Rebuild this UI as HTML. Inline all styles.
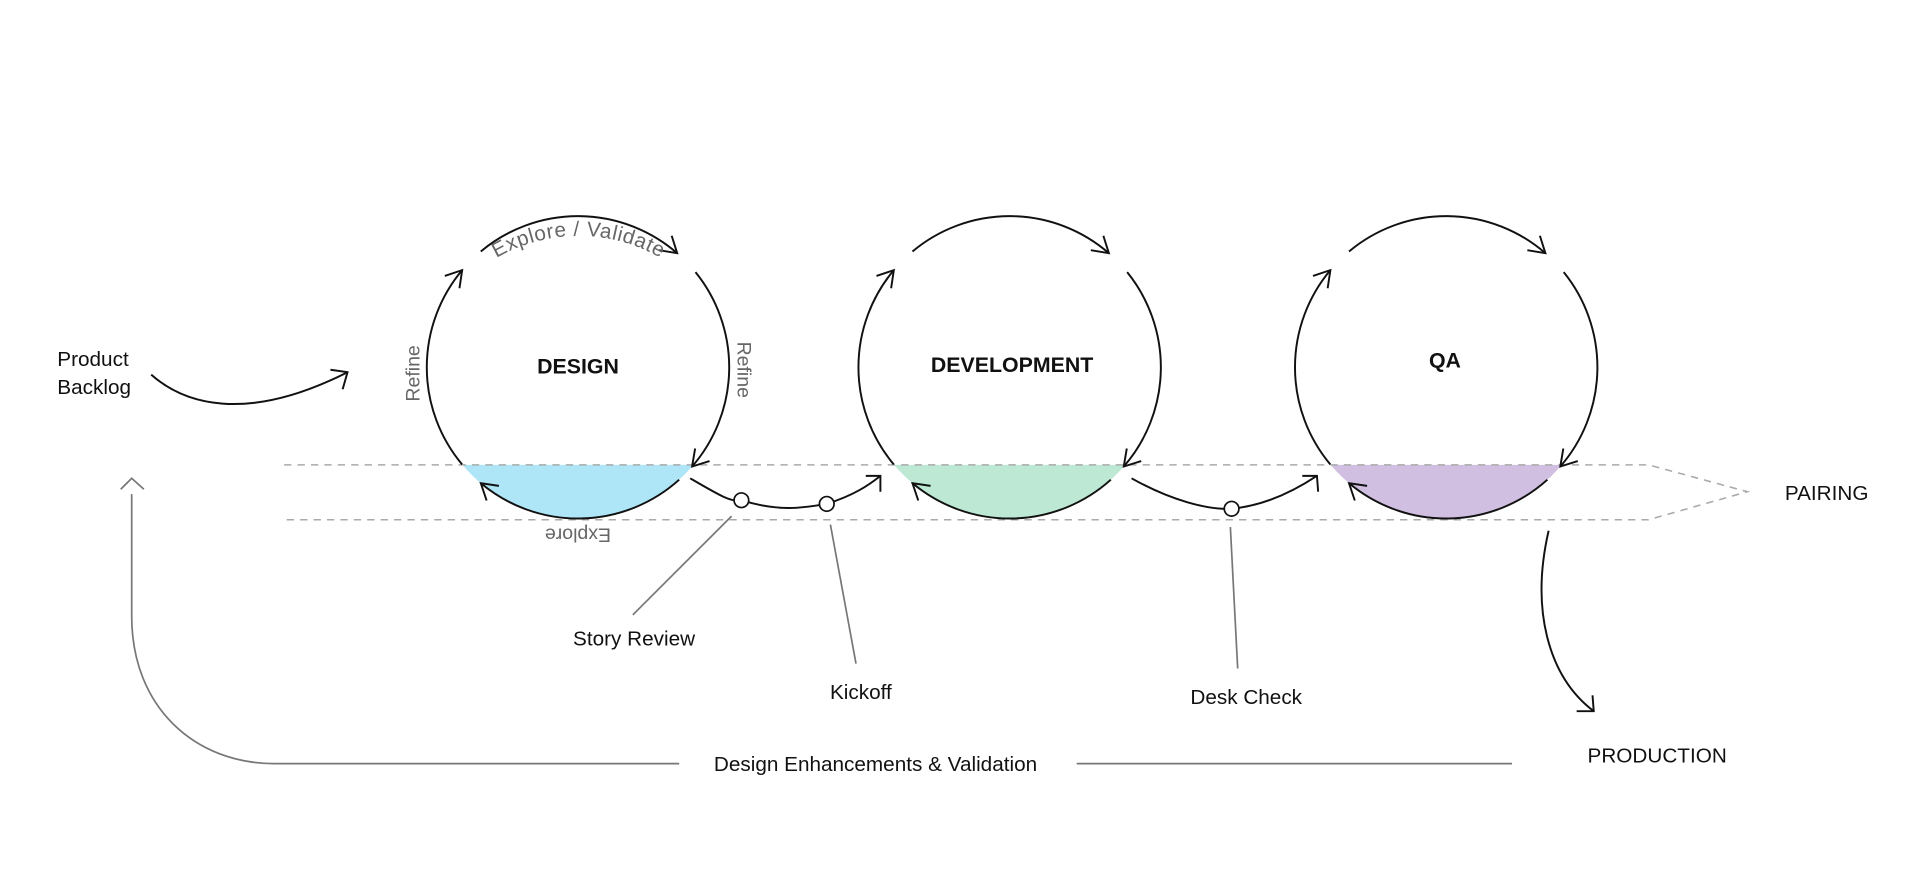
<!DOCTYPE html>
<html><head><meta charset="utf-8"><style>
html,body{margin:0;padding:0;background:#fff;}
svg{display:block;}
text{font-family:"Liberation Sans",sans-serif;}
</style></head><body>
<svg id="s" width="1912" height="870" viewBox="0 0 1568 713" xmlns="http://www.w3.org/2000/svg">
<rect width="1568" height="713" fill="#fff"/>
<g id="fills"></g>
<g stroke="#aaa" stroke-width="1.3" stroke-dasharray="6,5" fill="none">
<path d="M233 381 H1352 L1433 403 L1352 426 H233"/>
</g>
<g id="arcs" fill="none" stroke="#111" stroke-width="1.6"></g>
<g fill="none" stroke="#111" stroke-width="1.6">
<path d="M124 307 C150 330 200 348 285 305"/>
<path d="M271 303 L285 305 L281 319"/>
<path d="M566 392 C590 406 600 412 608 410 C640 420 660 416 678 413 C700 406 712 398 722 390"/>
<path d="M710 390 L722 390 L722 403"/>
<path d="M928 392 C960 410 990 418 1010 417 C1040 414 1065 400 1080 390"/>
<path d="M1068 390 L1080 390 L1081 403"/>
<path d="M1270 435 C1255 500 1270 555 1307 583"/>
<path d="M1293 583 L1307 583 L1306 570"/>
</g>
<g fill="#fff" stroke="#111" stroke-width="1.4">
<circle cx="608" cy="410" r="6"/><circle cx="678" cy="413" r="6"/><circle cx="1010" cy="417" r="6"/>
</g>
<g stroke="#777" stroke-width="1.4" fill="none">
<path d="M600 423 L519 504"/><path d="M681 430 L702 544"/><path d="M1009 432 L1015 548"/>
<path d="M99 401 L108 392 L118 401"/>
<path d="M108 405 V505 C108 580 160 626 225 626 H557"/>
<path d="M883 626 H1240"/>
</g>
<path id="tp" d="M389 224 A 134 134 0 0 1 560 224" fill="none"/>
<text font-size="17" fill="#666" letter-spacing="0.5"><textPath href="#tp" startOffset="50%" text-anchor="middle">Explore / Validate</textPath></text>
<text font-size="16" fill="#666" transform="translate(344 306) rotate(-90)" text-anchor="middle">Refine</text>
<text font-size="16" fill="#666" transform="translate(605 303) rotate(90)" text-anchor="middle">Refine</text>
<text font-size="16" fill="#666" transform="translate(474 433) rotate(180)" text-anchor="middle">Explore</text>
<g font-weight="bold" font-size="17.5" fill="#111" text-anchor="middle">
<text x="474" y="306">DESIGN</text><text x="830" y="305">DEVELOPMENT</text><text x="1185" y="301">QA</text>
</g>
<g font-size="17" fill="#111">
<text x="47" y="300">Product</text><text x="47" y="323">Backlog</text>
<text x="520" y="529" text-anchor="middle">Story Review</text>
<text x="706" y="573" text-anchor="middle">Kickoff</text>
<text x="1022" y="577" text-anchor="middle">Desk Check</text>
<text x="718" y="632" text-anchor="middle">Design Enhancements &amp; Validation</text>
<text x="1359" y="625" text-anchor="middle">PRODUCTION</text>
<text x="1498" y="410" text-anchor="middle">PAIRING</text>
</g>
<script>
(function(){
var ns="http://www.w3.org/2000/svg";
var arcs=document.getElementById('arcs'),fills=document.getElementById('fills');
var C=[[474,301,'#aee6f8'],[828,301,'#bde8d4'],[1186,301,'#d0bfe0']];
var segs=[[-130,-49],[-39,41],[48,130],[140,220]];
var r=124;
C.forEach(function(c){
 var cx=c[0],cy=c[1];
 var dy=381-cy,hw=Math.sqrt(r*r-dy*dy);
 var f=document.createElementNS(ns,'path');
 f.setAttribute('d','M'+(cx-hw)+' 381 A'+r+' '+r+' 0 0 0 '+(cx+hw)+' 381 Z');
 f.setAttribute('fill',c[2]);fills.appendChild(f);
 segs.forEach(function(s){
  var a0=s[0]*Math.PI/180,a1=s[1]*Math.PI/180;
  var x0=cx+r*Math.cos(a0),y0=cy+r*Math.sin(a0),x1=cx+r*Math.cos(a1),y1=cy+r*Math.sin(a1);
  var p=document.createElementNS(ns,'path');
  p.setAttribute('d','M'+x0+' '+y0+' A'+r+' '+r+' 0 0 1 '+x1+' '+y1);
  arcs.appendChild(p);
  var tx=-Math.sin(a1),ty=Math.cos(a1);
  var L=15,th=0.55;
  function rot(x,y,t){return [x*Math.cos(t)-y*Math.sin(t),x*Math.sin(t)+y*Math.cos(t)];}
  var b1=rot(-tx,-ty,th),b2=rot(-tx,-ty,-th);
  var h=document.createElementNS(ns,'path');
  h.setAttribute('d','M'+(x1+b1[0]*L)+' '+(y1+b1[1]*L)+' L'+x1+' '+y1+' L'+(x1+b2[0]*L)+' '+(y1+b2[1]*L));
  arcs.appendChild(h);
 });
});
})();
</script>
</svg>
</body></html>
